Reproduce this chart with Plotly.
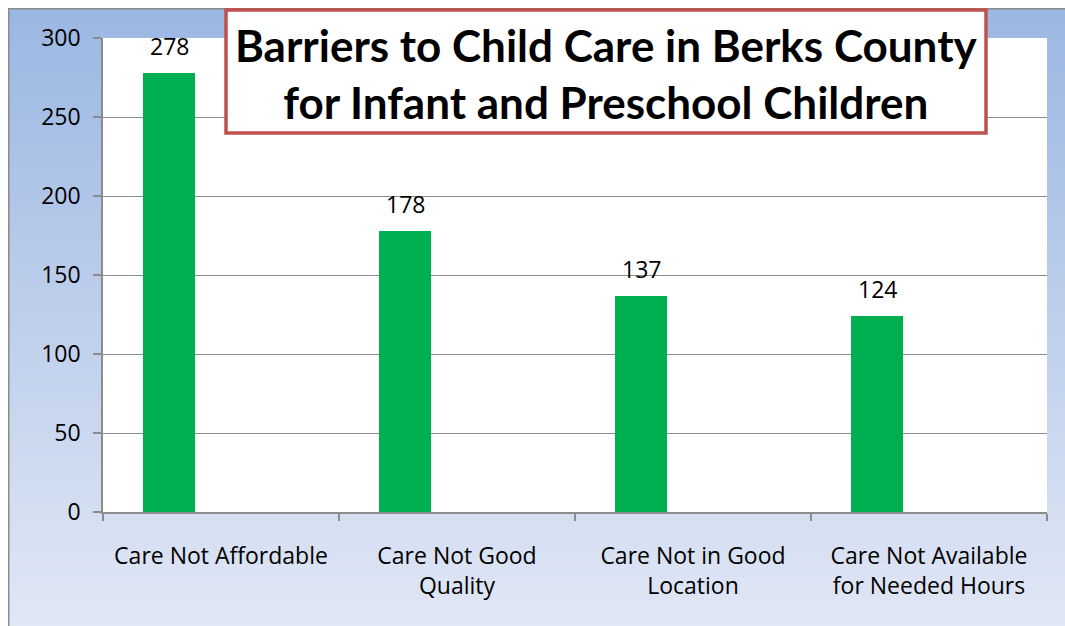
import plotly.graph_objects as go

categories = ["Care Not Affordable", "Care Not Good<br>Quality", "Care Not in Good<br>Location", "Care Not Available<br>for Needed Hours"]
values = [278, 178, 137, 124]
y_ticks = [0, 50, 100, 150, 200, 250, 300]
title_lines = ["Barriers to Child Care in Berks County", "for Infant and Preschool Children"]

W, H = 1065, 626
L, R, T, B = 103, 18, 38, 114
PW, PH = W - L - R, H - T - B
n = len(categories)
slots = list(range(n))
bar_x = [i + 0.28 for i in slots]
label_x = [i + 0.5 for i in slots]

px = lambda v: (v - L) / PW
py = lambda v: 1 - (v - T) / PH

fig = go.Figure()
fig.add_trace(go.Bar(x=bar_x, y=values, width=0.22, marker=dict(color="#00B050", line=dict(width=0)),
                     showlegend=False, hoverinfo="y"))

for x, v in zip(bar_x, values):
    fig.add_annotation(x=x, y=v, text=str(v), showarrow=False, yshift=27, xref="x", yref="y",
                       font=dict(family="Open Sans, sans-serif", size=23, color="black"))

# vertical gradient background drawn as thin bands (styling only)
TOP_C, BOT_C = (155, 183, 226), (224, 231, 245)
NB = 150
GX0, GY0 = 8, 8
shapes = []
for k in range(NB):
    t = k / (NB - 1)
    c = tuple(int(round(TOP_C[j] + (BOT_C[j] - TOP_C[j]) * t)) for j in range(3))
    ya = GY0 + (H - GY0) * k / NB
    yb = GY0 + (H - GY0) * (k + 1) / NB + 1
    shapes.append(dict(type="rect", xref="paper", yref="paper", x0=px(GX0), x1=px(W + 30),
                       y0=py(yb if k < NB - 1 else H + 30), y1=py(ya),
                       fillcolor="rgb(%d,%d,%d)" % c, line=dict(width=0), layer="below"))

shapes += [
    dict(type="rect", xref="paper", yref="paper", x0=0, x1=1, y0=0, y1=1,
         fillcolor="white", line=dict(width=0), layer="below"),
    dict(type="line", xref="paper", yref="paper", x0=px(8.75), x1=px(8.75), y0=py(H + 5), y1=py(8),
         line=dict(color="#8C8C8C", width=1.5)),
    dict(type="line", xref="paper", yref="paper", x0=px(8), x1=px(W + 5), y0=py(8.75), y1=py(8.75),
         line=dict(color="#8C8C8C", width=1.5)),
    dict(type="rect", xref="paper", yref="paper", x0=px(226), x1=px(986), y0=py(133), y1=py(10),
         fillcolor="white", line=dict(color="#C0504D", width=3.5), layer="above"),
]

fig.add_annotation(xref="paper", yref="paper", x=px(606), y=py(74),
                   text="<br>".join("<b>%s</b>" % s for s in title_lines),
                   showarrow=False, align="center", yanchor="middle", xanchor="center",
                   font=dict(family="Lato, sans-serif", size=44, color="black"))

fig.update_layout(
    width=W, height=H,
    margin=dict(l=L, r=R, t=T, b=B),
    paper_bgcolor="white", plot_bgcolor="white",
    shapes=shapes,
    bargap=0,
    xaxis=dict(range=[0, n], tickmode="array", tickvals=label_x, ticktext=categories,
               ticks="outside", ticklen=23, tickcolor="rgba(0,0,0,0)",
               showgrid=False, zeroline=False, showline=True, linecolor="#8C8C8C", linewidth=1.5,
               tickfont=dict(family="Open Sans, sans-serif", size=23, color="black"),
               minor=dict(tickmode="array", tickvals=list(range(n + 1)), ticks="outside", ticklen=7,
                          tickcolor="#8C8C8C", tickwidth=1.5, showgrid=False),
               fixedrange=True),
    yaxis=dict(range=[0, 300], tickmode="array", tickvals=y_ticks, ticks="outside", ticklen=8,
               tickcolor="#8C8C8C", tickwidth=1.5, ticklabelstandoff=8,
               showgrid=True, gridcolor="#8C8C8C", gridwidth=1.2, zeroline=False,
               showline=True, linecolor="#8C8C8C", linewidth=1.5,
               tickfont=dict(family="Open Sans, sans-serif", size=23, color="black"), fixedrange=True),
)

fig.write_html("out.html", config={"displayModeBar": False},
               post_script="document.body.style.margin='0';document.body.style.overflow='hidden';"
                           "document.documentElement.style.overflow='hidden';")
